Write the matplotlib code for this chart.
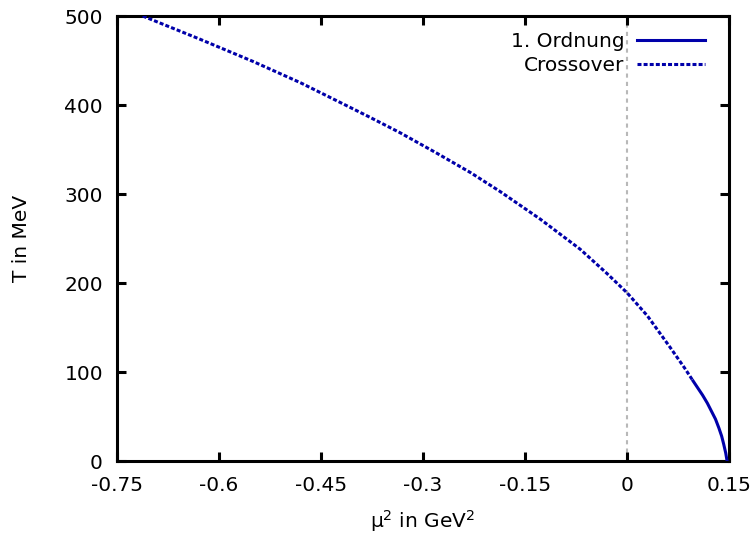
import matplotlib.pyplot as plt

# Crossover-Linie (gepunktet), gelesen aus dem Bild
crossover_mu2 = [-0.712, -0.67, -0.628, -0.55, -0.48, -0.422, -0.38, -0.334, -0.28,
                 -0.23, -0.187, -0.128, -0.069, -0.03, 0.0, 0.03, 0.063, 0.085, 0.097]
crossover_T = [500, 487, 474, 449, 425, 403, 387, 369, 346,
               324, 303, 272, 238, 211, 189, 163, 128, 104, 90]

# Phasenübergang 1. Ordnung (durchgezogen)
ordnung_mu2 = [0.097, 0.104, 0.111, 0.118, 0.124, 0.130, 0.135, 0.139, 0.142, 0.145, 0.147]
ordnung_T = [90, 82, 74, 65, 56, 47, 37, 28, 19, 9, 0]

xticks = [-0.75, -0.6, -0.45, -0.3, -0.15, 0, 0.15]
xticklabels = ["-0.75", "-0.6", "-0.45", "-0.3", "-0.15", "0", "0.15"]
yticks = [0, 100, 200, 300, 400, 500]

plt.rcParams['font.family'] = 'DejaVu Sans'
plt.rcParams['mathtext.default'] = 'regular'
plt.rcParams['axes.unicode_minus'] = False

blau = '#0000aa'
fs = 14.5

fig = plt.figure(figsize=(7.54, 5.43), dpi=100)
ax = fig.add_axes([0.155, 0.151, 0.812, 0.8195])

ax.axvline(0, color='#b8b8b8', lw=1.5, ls=(0, (2, 2)), zorder=1)
ax.plot(ordnung_mu2, ordnung_T, color=blau, lw=2.2, label="1. Ordnung", zorder=3)
ax.plot(crossover_mu2, crossover_T, color=blau, lw=2.2, ls=(0, (1.3, 0.7)),
        label="Crossover", zorder=3)

ax.set_xlim(-0.75, 0.15)
ax.set_ylim(0, 500)
ax.set_xticks(xticks, xticklabels)
ax.set_yticks(yticks)

for s in ax.spines.values():
    s.set_linewidth(2.2)
ax.tick_params(direction='in', length=6.5, width=2.2, top=True, right=True,
               labelsize=fs)
ax.tick_params(axis='x', pad=11)
ax.tick_params(axis='y', pad=10)

ax.set_xlabel("μ$^2$ in GeV$^2$", fontsize=fs, labelpad=9)
ax.set_ylabel("T in MeV", fontsize=fs, labelpad=24)

ax.legend(loc='upper right', bbox_to_anchor=(0.961, 0.964), frameon=False,
          markerfirst=False, fontsize=fs, handlelength=3.4, handletextpad=0.6,
          labelspacing=0.25, borderaxespad=0, borderpad=0)

fig.savefig("out.png", dpi=100)
